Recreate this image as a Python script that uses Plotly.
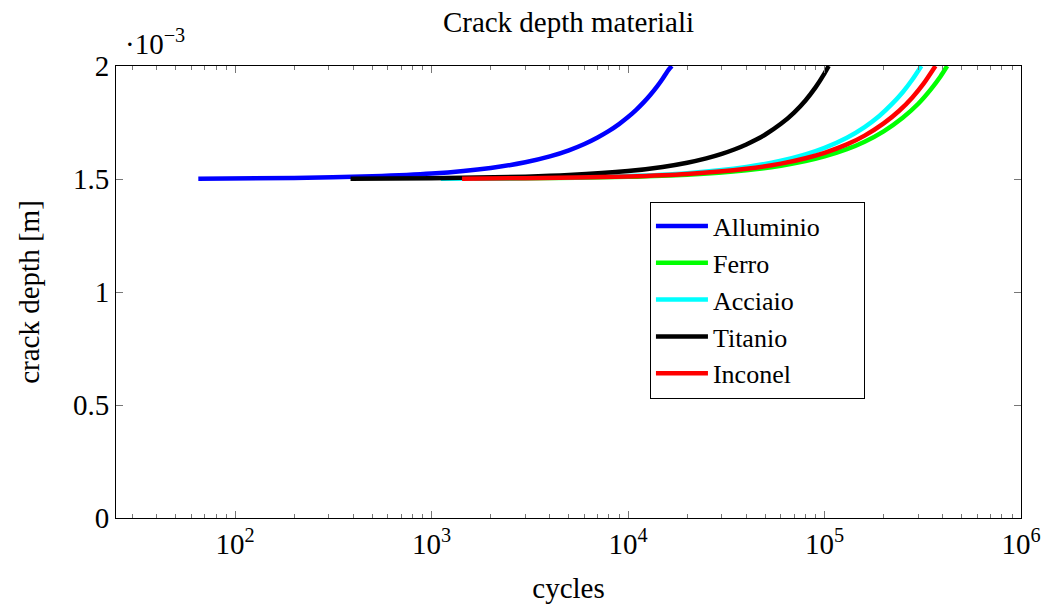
import plotly.graph_objects as go

# crack depth in units of 1e-3 m
al_N = [65, 200, 500, 1000, 2000, 3000, 4000, 5000, 6000, 7000, 8000, 9000, 10000,
        11000, 12000, 13000, 14000, 15000, 16000, 16700]
al_a = [1.5016, 1.5048, 1.512, 1.524, 1.549, 1.574, 1.600, 1.627, 1.655, 1.684, 1.713,
        1.743, 1.774, 1.806, 1.839, 1.873, 1.908, 1.944, 1.981, 2.0]

fe_N = [1650, 3000, 10000, 20000, 40000, 60000, 80000, 100000, 130000, 160000, 200000,
        250000, 300000, 350000, 390000, 421000]
fe_a = [1.5016, 1.5029, 1.5096, 1.519, 1.539, 1.559, 1.579, 1.600, 1.632, 1.665, 1.711,
        1.771, 1.833, 1.900, 1.955, 2.0]

st_N = [1115, 3000, 10000, 20000, 40000, 60000, 80000, 100000, 130000, 160000, 190000,
        220000, 250000, 280000, 311000]
st_a = [1.5014, 1.5039, 1.513, 1.526, 1.553, 1.581, 1.609, 1.638, 1.683, 1.730, 1.779,
        1.831, 1.884, 1.940, 2.0]

ti_N = [387, 1000, 3000, 5000, 10000, 15000, 20000, 25000, 30000, 35000, 40000, 45000,
        50000, 60000, 70000, 80000, 90000, 100000, 105000]
ti_a = [1.5013, 1.5035, 1.5103, 1.5172, 1.5351, 1.5533, 1.5721, 1.5913, 1.6113, 1.6317,
        1.6529, 1.6746, 1.6970, 1.7441, 1.7942, 1.8477, 1.9053, 1.9672, 2.0]

in_N = [1430, 3000, 10000, 20000, 40000, 60000, 80000, 100000, 130000, 160000, 200000,
        240000, 280000, 320000, 367000]
in_a = [1.5016, 1.5033, 1.511, 1.522, 1.545, 1.568, 1.592, 1.616, 1.653, 1.692, 1.746,
        1.802, 1.861, 1.923, 2.0]

series = [
    ("Alluminio", al_N, al_a, "#0000ff"),
    ("Ferro", fe_N, fe_a, "#00ff00"),
    ("Acciaio", st_N, st_a, "#00ffff"),
    ("Titanio", ti_N, ti_a, "#000000"),
    ("Inconel", in_N, in_a, "#ff0000"),
]

x_major = [100, 1000, 10000, 100000, 1000000]
x_major_text = ["10<sup>2</sup>", "10<sup>3</sup>", "10<sup>4</sup>", "10<sup>5</sup>", "10<sup>6</sup>"]
x_minor = [m * 10 ** e for e in range(1, 6) for m in range(2, 10) if m * 10 ** e >= 25]
y_major = [0, 0.5, 1, 1.5, 2]
y_major_text = ["0", "0.5", "1", "1.5", "2"]

FONT = "Liberation Serif"
FS = 29
PAD = "\u00a0" * 6

fig = go.Figure()
for name, xs, ys, col in series:
    fig.add_trace(go.Scatter(x=xs, y=ys, mode="lines", name=name + PAD,
                             line=dict(color=col, width=4.5, shape="spline", smoothing=0.6)))

fig.update_layout(
    width=1053, height=610,
    margin=dict(l=116, r=31, t=66, b=90),
    paper_bgcolor="white", plot_bgcolor="white",
    font=dict(family=FONT, size=FS, color="black"),
    title=dict(text="Crack depth materiali", x=0.5, xanchor="center", xref="paper",
               y=1 - 22 / 610, yanchor="middle",
               font=dict(family=FONT, size=FS, color="black")),
    showlegend=True,
    legend=dict(x=0.590, y=0.700, xanchor="left", yanchor="top",
                bordercolor="black", borderwidth=1, bgcolor="white",
                font=dict(family=FONT, size=26, color="black"), tracegroupgap=0,
                itemwidth=52),
)

fig.update_xaxes(
    type="log", range=[1.394, 6.0],
    tickvals=x_major, ticktext=x_major_text,
    tickfont=dict(family=FONT, size=FS, color="black"),
    ticks="inside", ticklen=7, tickcolor="#777777", tickwidth=1,
    minor=dict(tickvals=x_minor, ticks="inside", ticklen=4, tickcolor="#777777"),
    showgrid=False, zeroline=False,
    showline=True, linecolor="black", linewidth=1, mirror="ticks",
    title=dict(text="cycles", standoff=18, font=dict(family=FONT, size=FS, color="black")),
)
fig.update_yaxes(
    range=[0, 2],
    tickvals=y_major, ticktext=y_major_text,
    tickfont=dict(family=FONT, size=FS, color="black"),
    ticks="inside", ticklen=7, tickcolor="#777777", tickwidth=1,
    showgrid=False, zeroline=False,
    showline=True, linecolor="black", linewidth=1, mirror="ticks",
    title=dict(text="crack depth [m]", standoff=24, font=dict(family=FONT, size=FS, color="black")),
)

fig.add_annotation(text="·10<sup>−3</sup>", xref="paper", yref="paper",
                   x=0.008, y=1.0, xanchor="left", yanchor="bottom", yshift=4,
                   showarrow=False, font=dict(family=FONT, size=FS, color="black"))

fig.write_html("out.html")
